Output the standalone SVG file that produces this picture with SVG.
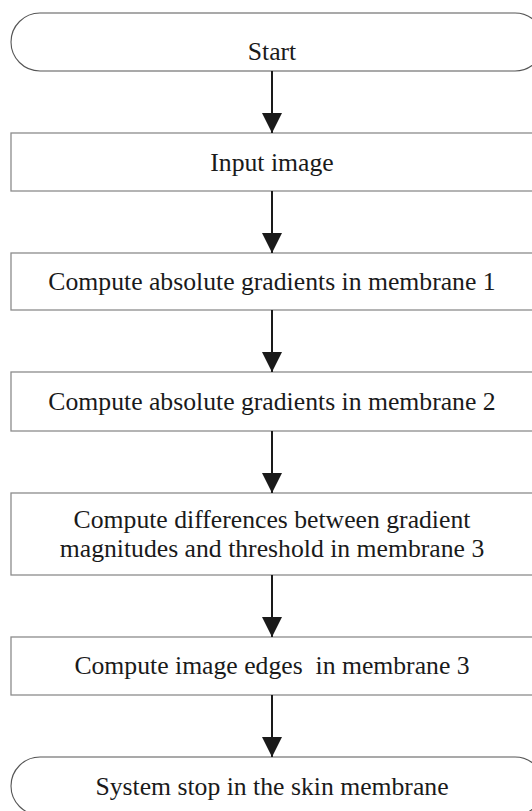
<svg xmlns="http://www.w3.org/2000/svg" width="532" height="811" viewBox="0 0 532 811">
  <style>
    .box { fill: #ffffff; stroke: #8c8c8c; stroke-width: 1.3; }
    .term { fill: #ffffff; stroke: #555555; stroke-width: 1.1; }
    .label { font-family: 'Liberation Serif', 'Times New Roman', serif; font-size: 25.7px; fill: #1a1a1a; text-anchor: middle; }
    .link { stroke: #1a1a1a; stroke-width: 2; fill: none; marker-end: url(#head); }
  </style>
  <defs>
    <marker id="head" viewBox="0 0 20 20" refX="20" refY="10" markerWidth="20" markerHeight="20" markerUnits="userSpaceOnUse" orient="auto">
      <path d="M0,0 L20,10 L0,20 Z" fill="#1a1a1a"/>
    </marker>
  </defs>
  <rect width="532" height="811" fill="#ffffff"/>

  <!-- terminator and process steps, top to bottom -->
  <g id="start">
    <rect class="term" x="11" y="13" width="533" height="58" rx="29" ry="29"/>
    <text class="label" x="272" y="60">Start</text>
  </g>
  <g id="input-image">
    <rect class="box" x="11" y="133" width="530" height="58"/>
    <text class="label" x="272" y="171">Input image</text>
  </g>
  <g id="gradients-m1">
    <rect class="box" x="11" y="253" width="530" height="57"/>
    <text class="label" x="272" y="290">Compute absolute gradients in membrane 1</text>
  </g>
  <g id="gradients-m2">
    <rect class="box" x="11" y="372" width="530" height="59"/>
    <text class="label" x="272" y="410">Compute absolute gradients in membrane 2</text>
  </g>
  <g id="differences-m3">
    <rect class="box" x="11" y="493" width="530" height="82"/>
    <text class="label" x="272" y="528">Compute differences between gradient</text>
    <text class="label" x="272" y="557">magnitudes and threshold in membrane 3</text>
  </g>
  <g id="edges-m3">
    <rect class="box" x="11" y="637" width="530" height="58"/>
    <text class="label" x="272" y="674" xml:space="preserve">Compute image edges  in membrane 3</text>
  </g>
  <g id="stop">
    <rect class="term" x="11" y="757" width="533" height="58" rx="29" ry="29"/>
    <text class="label" x="272" y="795">System stop in the skin membrane</text>
  </g>

  <!-- downward flow arrows -->
  <g id="connectors">
    <line class="link" x1="272" y1="71" x2="272" y2="133"/>
    <line class="link" x1="272" y1="191" x2="272" y2="253"/>
    <line class="link" x1="272" y1="310" x2="272" y2="372"/>
    <line class="link" x1="272" y1="431" x2="272" y2="493"/>
    <line class="link" x1="272" y1="575" x2="272" y2="637"/>
    <line class="link" x1="272" y1="695" x2="272" y2="757"/>
  </g>
</svg>
